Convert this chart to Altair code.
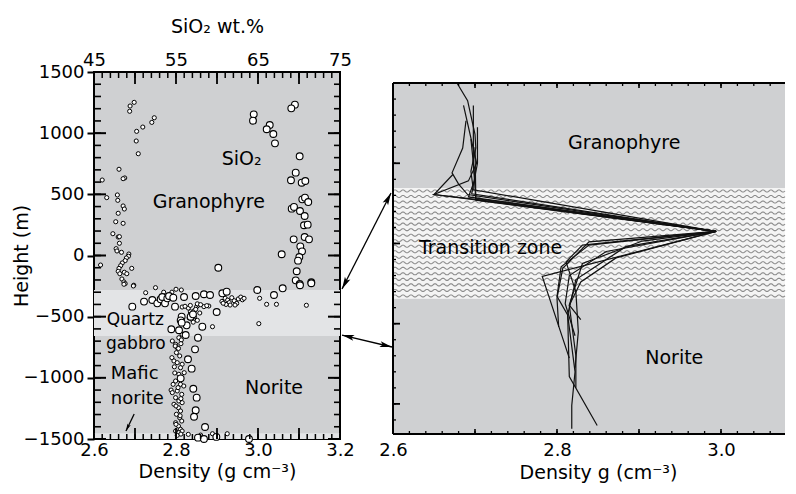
import altair as alt
import numpy as np
import pandas as pd

FONT = "DejaVu Sans"

# ---------------- Left panel data ----------------
# small circles: (density g/cm3, height m)
gran_small = [(2.698, 1252), (2.688, 1222), (2.687, 1179), (2.747, 1126), (2.741, 1088), (2.719, 1050),
              (2.704, 1015), (2.703, 936), (2.708, 832), (2.661, 705), (2.675, 634), (2.671, 628),
              (2.620, 617), (2.631, 473), (2.657, 495), (2.658, 451), (2.671, 405), (2.674, 380),
              (2.659, 345), (2.653, 276), (2.671, 263), (2.646, 178), (2.659, 151), (2.662, 154),
              (2.662, 100), (2.654, 56), (2.656, 37), (2.667, 26), (2.685, 12), (2.684, -6),
              (2.679, -20), (2.676, -42), (2.669, -61), (2.665, -83), (2.661, -105), (2.659, -129),
              (2.663, -149), (2.674, -137), (2.680, -149), (2.692, -105), (2.616, -78), (2.668, -192),
              (2.673, -216), (2.676, -230), (2.697, -243)]
qg_small = [(2.726, -304), (2.750, -263), (2.696, -249), (2.673, -235), (2.800, -276), (2.813, -282),
            (3.004, -350), (3.021, -399), (3.045, -399), (3.118, -407), (3.002, -557), (2.889, -582),
            (2.852, -530), (2.815, -421), (2.880, -413), (2.868, -418), (2.830, -430), (2.835, -460),
            (2.840, -490), (2.845, -450), (2.850, -420), (2.838, -520), (2.842, -545), (2.828, -560),
            (2.855, -405), (2.858, -470), (2.845, -500), (2.832, -510), (2.848, -440), (2.836, -480),
            (2.852, -395), (2.912, -375), (2.920, -350), (2.926, -365), (2.930, -385), (2.936, -345),
            (2.942, -370), (2.948, -392), (2.952, -355), (2.958, -340), (2.962, -362), (2.966, -350),
            (2.944, -405), (2.932, -405), (2.922, -400), (2.915, -390), (2.822, -415), (2.835, -408),
            (2.860, -402), (2.875, -410), (2.770, -300), (2.790, -300)]
nor_small = [(2.807, -672), (2.813, -690), (2.815, -644), (2.791, -699), (2.799, -726), (2.803, -754),
             (2.812, -721), (2.798, -740), (2.806, -760), (2.801, -794), (2.809, -821), (2.790, -835),
             (2.795, -862), (2.803, -876), (2.815, -889), (2.811, -917), (2.820, -958), (2.807, -971),
             (2.796, -910), (2.812, -1000), (2.799, -1026), (2.793, -1053), (2.811, -1053), (2.819, -1067),
             (2.788, -1100), (2.791, -1121), (2.803, -1107), (2.814, -1135), (2.799, -1162), (2.807, -1189),
             (2.815, -1203), (2.795, -1216), (2.806, -1244), (2.811, -1271), (2.801, -1298), (2.809, -1326),
             (2.814, -1353), (2.799, -1367), (2.806, -1394), (2.811, -1421), (2.799, -1435), (2.807, -1448),
             (2.815, -1435), (2.803, -1470), (2.812, -1460), (2.830, -1462), (2.860, -1468), (2.889, -1457),
             (2.925, -1457), (2.800, -1230), (2.810, -1310), (2.800, -1380), (2.812, -1170), (2.797, -960),
             (2.805, -1080)]
# large circles: (SiO2 wt.%, height m)
gran_big = [(69.5, 1233), (69.06, 1203), (64.48, 1154), (64.39, 1102), (66.43, 1067), (66.06, 1032),
            (66.87, 993), (67.07, 917), (70.08, 811), (69.6, 677), (69.02, 615), (70.33, 595),
            (70.77, 609), (70.40, 459), (70.73, 473), (71.13, 437), (69.11, 383), (69.39, 397),
            (70.12, 364), (70.69, 323), (70.61, 247), (71.06, 252), (69.35, 132), (70.69, 151),
            (71.22, 132), (70.16, 75), (70.37, 34), (70.04, -12), (69.88, -42), (67.89, 10),
            (69.72, -129), (69.6, -203), (70.08, -233), (71.5, -219), (60.16, -100)]
qg_big = [(49.67, -418), (51.10, -377), (52.11, -364), (52.72, -391), (53.13, -358), (53.33, -339),
          (53.66, -391), (53.94, -350), (54.15, -331), (54.67, -345), (54.88, -418), (55.98, -339),
          (57.40, -331), (58.41, -317), (59.15, -323), (60.65, -309), (61.18, -296), (64.91, -282),
          (66.95, -323), (68.01, -268), (70.12, -243), (71.5, -227), (59.96, -462), (56.79, -500),
          (55.69, -500), (57.07, -481), (55.57, -530), (56.30, -571), (54.43, -603), (55.37, -611),
          (56.18, -650), (57.68, -672), (58.21, -582), (55.69, -549)]
nor_big = [(57.32, -767), (56.46, -848), (56.91, -925), (55.57, -1004), (57.11, -1089), (57.52, -1162),
           (57.40, -1265), (57.20, -1318), (58.54, -1402), (57.68, -1489), (58.41, -1500), (59.92, -1483),
           (63.90, -1500)]

# light bands (height ranges)
band_low = [-658, -1500]
band_high = [-282, -1453]

# tick values
h_major = [-1500, -1000, -500, 0, 500, 1000, 1500]
h_minor = list(range(-1400, 1500, 100))
den_labels = [2.6, 2.8, 3.0, 3.2]
den_major = [2.6, 2.7, 2.8, 2.9, 3.0, 3.1, 3.2]
den_minor = [round(2.6 + 0.02 * i, 2) for i in range(31)]
si_labels = [45, 55, 65, 75]
si_major = [45, 50, 55, 60, 65, 70, 75]
si_minor = list(range(45, 76))

# ---------------- Right panel data ----------------
prof1_d = [2.678, 2.691, 2.700, 2.701, 2.695, 2.698, 2.994, 2.839, 2.807, 2.800, 2.802]
prof1_u = [400, 378, 336, 319, 290, 267, 215, 202, 169, 132, 96]
prof2_d = [2.698, 2.698, 2.701, 2.994, 2.904, 2.831, 2.815, 2.829]
prof2_u = [372, 300, 254, 215, 203, 175, 123, 105]
prof3_d = [2.689, 2.685, 2.672, 2.680, 2.691, 2.994, 2.884, 2.823, 2.813, 2.822, 2.818, 2.818]
prof3_u = [353, 319, 288, 274, 261, 215, 196, 155, 111, 40, -2, -31]
prof4_d = [2.686, 2.702, 2.692, 2.650, 2.994, 2.782, 2.815]
prof4_u = [372, 300, 278, 261, 215, 159, 57]
prof5_d = [2.703, 2.703, 2.696, 2.994, 2.872, 2.829, 2.815, 2.823, 2.823]
prof5_u = [345, 300, 262, 215, 182, 152, 123, 60, 20]
prof6_d = [2.695, 2.700, 2.692, 2.994, 2.839, 2.805, 2.800, 2.813, 2.815, 2.849]
prof6_u = [330, 280, 258, 215, 198, 171, 134, 111, 34, -27]
prof7_d = [2.673, 2.650, 2.701, 2.994, 2.831, 2.811, 2.823, 2.826, 2.822]
prof7_u = [286, 261, 255, 215, 198, 177, 140, 90, 45]
prof8_d = [2.700, 2.701, 2.994, 2.860, 2.815, 2.810, 2.822]
prof8_u = [320, 256, 215, 190, 160, 125, 85]

zones = ["Granophyre", "Transition zone", "Norite"]
zone_low = [269, 131, -37.5]
zone_high = [400, 269, 131]

u_major = [0, 100, 200, 300]
u_minor = list(range(-20, 400, 20))
rden_labels = [2.6, 2.8, 3.0]
rden_major = [2.6, 2.7, 2.8, 2.9, 3.0]
rden_minor = [round(2.6 + 0.02 * i, 2) for i in range(24)]

# ---------------- layout constants ----------------
LW, LH = 246, 367
RW, RH = 392, 367
RXMAX = 2.6 + RW / 820
GRAY = "#cfd0d2"
LIGHT = "#e3e4e6"
U_DOM = [-43.75, 413.75]
UPX = (U_DOM[1] - U_DOM[0]) / RH
TOP_PX = (U_DOM[1] - 400) / UPX
BOT_PX = (U_DOM[1] + 37.5) / UPX

xden = alt.Scale(domain=[2.6, 3.2], nice=False, zero=False)
xsi = alt.Scale(domain=[45, 75], nice=False, zero=False)
yh = alt.Scale(domain=[-1500, 1500], nice=False, zero=False)
xr = alt.Scale(domain=[2.6, RXMAX], nice=False, zero=False)
yu = alt.Scale(domain=U_DOM, nice=False, zero=False)

YAX = alt.Axis(values=h_major, format="d", tickSize=7, tickWidth=2, tickColor="black", domain=False,
               grid=False, labelFontSize=18, labelPadding=3, title="Height (m)", titleFontSize=19,
               titleX=-63)
RXAX = alt.Axis(values=rden_labels, format=".1f", ticks=False, domain=False, grid=False, labelFlush=False,
                labelFontSize=18, labelPadding=2, title="Density g (cm⁻³)", titleFontSize=19,
                titlePadding=4, titleX=205)


def YH(f):
    return alt.Y(f, scale=yh, axis=YAX)


def XR(f):
    return alt.X(f, scale=xr, axis=RXAX)


def YU(f):
    return alt.Y(f, scale=yu, axis=None)


# ---------------- left panel ----------------
small_df = pd.DataFrame(gran_small + qg_small + nor_small, columns=["d", "h"])
big_df = pd.DataFrame(gran_big + qg_big + nor_big, columns=["s", "h"])
band_df = pd.DataFrame({"h1": band_low, "h2": band_high})

bands = alt.Chart(band_df).mark_rect(color=LIGHT).encode(
    x=alt.value(0), x2=alt.value(LW), y=YH("h1:Q"), y2="h2:Q")

small = alt.Chart(small_df).mark_point(
    shape="circle", filled=True, fill="white", stroke="black", strokeWidth=1, size=17, opacity=1
).encode(
    x=alt.X("d:Q", scale=xden, axis=alt.Axis(
        orient="bottom", values=den_labels, format=".1f", ticks=False, domain=False, grid=False,
        labelFlush=False, labelFontSize=18, labelPadding=2, title="Density (g cm⁻³)",
        titleFontSize=19, titlePadding=3)),
    y=YH("h:Q"))

big = alt.Chart(big_df).mark_point(
    shape="circle", filled=True, fill="white", stroke="black", strokeWidth=1.1, size=46, opacity=1
).encode(
    x=alt.X("s:Q", scale=xsi, axis=alt.Axis(
        orient="top", values=si_labels, format="d", ticks=False, domain=False, grid=False,
        labelFlush=False, labelFontSize=18, labelPadding=3, title="SiO₂ wt.%", titleFontSize=19,
        titlePadding=15)),
    y=YH("h:Q"))


def hticks(vals, x0, x1, w):
    return alt.Chart(pd.DataFrame({"h": vals})).mark_rule(color="black", strokeWidth=w).encode(
        x=alt.value(x0), x2=alt.value(x1), y=YH("h:Q"))


def vticks(vals, field, scale, y0, y1, w):
    return alt.Chart(pd.DataFrame({field: vals})).mark_rule(color="black", strokeWidth=w).encode(
        x=alt.X(f"{field}:Q", scale=scale, axis=None), y=alt.value(y0), y2=alt.value(y1))


left_ticks = [
    hticks(h_major, 0, 12, 2), hticks(h_minor, 0, 7, 1.6),
    hticks(h_major, LW - 12, LW, 2), hticks(h_minor, LW - 6, LW, 1.6),
    vticks(den_major, "d", xden, LH - 11, LH, 1.8), vticks(den_minor, "d", xden, LH - 5, LH, 1.5),
    vticks(si_major, "s", xsi, 0, 12, 1.8), vticks(si_minor, "s", xsi, 0, 6, 1.5),
]

left_text_df = pd.DataFrame({
    "t": ["SiO₂", "Granophyre", "Norite"],
    "d": [2.96, 2.88, 3.039],
    "h": [785, 437, -1083],
})
left_text = alt.Chart(left_text_df).mark_text(fontSize=19, font=FONT, baseline="middle", color="black").encode(
    x=alt.X("d:Q", scale=xden, axis=None), y=YH("h:Q"), text="t:N")
left_text2_df = pd.DataFrame({
    "t": ["Quartz", "gabbro", "Mafic", "norite"],
    "d": [2.631, 2.629, 2.641, 2.641],
    "h": [-531, -723, -972, -1173],
    "fs": [17, 17, 18, 18],
})
left_text2 = alt.Chart(left_text2_df).mark_text(font=FONT, baseline="middle", align="left", color="black").encode(
    x=alt.X("d:Q", scale=xden, axis=None), y=YH("h:Q"), text="t:N",
    size=alt.Size("fs:Q", scale=None, legend=None))

# connecting arrows (density/height coordinates of left panel, extending into the gap)
arrow_df = pd.DataFrame({
    "d1": [3.2049, 3.2049, 2.698], "h1": [-274, -650, -1295],
    "d2": [3.3244, 3.3268, 2.678], "h2": [511, -748, -1434],
})
arrow_lines = alt.Chart(arrow_df).mark_rule(color="black", strokeWidth=1.3).encode(
    x=alt.X("d1:Q", scale=xden, axis=None), x2="d2:Q", y=YH("h1:Q"), y2="h2:Q")
head_df = pd.DataFrame({
    "d": [3.3244, 3.2049, 3.3268, 3.2049, 2.678],
    "h": [511, -274, -748, -650, -1434],
    "ang": [27.5, 207.5, 103.5, 283.5, 205.2],
    "sz": [150, 150, 150, 150, 55],
})
ARROW = "M0,0L0.5,2L0,1.55L-0.5,2Z"
heads = alt.Chart(head_df).mark_point(shape=ARROW, filled=True, color="black", opacity=1).encode(
    x=alt.X("d:Q", scale=xden, axis=None), y=YH("h:Q"),
    angle=alt.Angle("ang:Q", scale=None), size=alt.Size("sz:Q", scale=None, legend=None))

left = alt.layer(
    bands, small, big, *left_ticks, left_text, left_text2, arrow_lines, heads
).resolve_scale(x="independent").properties(
    width=LW, height=LH,
    view=alt.ViewBackground(fill=GRAY, stroke="black", strokeWidth=2))

# ---------------- right panel ----------------
profs = [(prof1_d, prof1_u), (prof2_d, prof2_u), (prof3_d, prof3_u), (prof4_d, prof4_u),
         (prof5_d, prof5_u), (prof6_d, prof6_u), (prof7_d, prof7_u), (prof8_d, prof8_u)]
rows = []
for k, (dd, uu) in enumerate(profs):
    for i, (a, b) in enumerate(zip(dd, uu)):
        rows.append({"p": k, "i": i, "d": a, "u": b})
prof_df = pd.DataFrame(rows)

zone_df = pd.DataFrame({"zone": zones, "u1": zone_low, "u2": zone_high})
zone_rects = alt.Chart(zone_df).mark_rect().encode(
    x=alt.value(0), x2=alt.value(RW), y=YU("u1:Q"), y2="u2:Q",
    color=alt.Color("zone:N", scale=alt.Scale(domain=zones, range=[GRAY, "#f4f4f4", GRAY]), legend=None))

# wavy hatching texture of the transition zone
NROWS, PER = 20, 6
STEP = (8 / 820) / PER
NPTS = int((RXMAX - 2.6) / STEP) + 1
waves = alt.Chart(alt.sequence(0, NROWS * NPTS, as_="i")).transform_calculate(
    row=f"floor(datum.i / {NPTS})", j=f"datum.i % {NPTS}"
).transform_calculate(
    x=f"2.6 + datum.j * {STEP}",
    y=f"{zone_low[1] + 3.6} + datum.row * {(zone_high[1] - zone_low[1] - 7.2) / (NROWS - 1)} + 1.4 * sin(2 * PI * datum.j / {PER})",
).mark_line(color="#8d8d8d", strokeWidth=1.1, interpolate="monotone").encode(
    x=XR("x:Q"), y=YU("y:Q"), detail="row:N")

lines = alt.Chart(prof_df).mark_line(color="#111111", strokeWidth=1.2).encode(
    x=XR("d:Q"), y=YU("u:Q"), detail="p:N", order="i:Q")

frame_h = alt.Chart(pd.DataFrame({"u": [zone_high[0], zone_low[2]]})).mark_rule(
    color="black", strokeWidth=2).encode(
    x=alt.value(0), x2=alt.value(RW), y=YU("u:Q"))
frame_v = alt.Chart(pd.DataFrame({"u1": [zone_low[2]], "u2": [zone_high[0]]})).mark_rule(
    color="black", strokeWidth=2).encode(
    x=alt.value(0), y=YU("u1:Q"), y2="u2:Q")


def rhticks(vals, length, w):
    return alt.Chart(pd.DataFrame({"u": vals})).mark_rule(color="black", strokeWidth=w).encode(
        x=alt.value(0), x2=alt.value(length), y=YU("u:Q"))


def rvticks(vals, y0, y1, w):
    return alt.Chart(pd.DataFrame({"d": vals})).mark_rule(color="black", strokeWidth=w).encode(
        x=XR("d:Q"), y=alt.value(y0), y2=alt.value(y1))


right_ticks = [
    rhticks(u_major, 7, 1.8), rhticks(u_minor, 3, 1.3),
    rvticks(rden_major, TOP_PX, TOP_PX + 5, 1.6), rvticks(rden_minor, TOP_PX, TOP_PX + 3, 1.3),
    rvticks(rden_major, BOT_PX - 5, BOT_PX, 1.6), rvticks(rden_minor, BOT_PX - 3, BOT_PX, 1.3),
]

right_text_df = pd.DataFrame({
    "t": ["Granophyre", "Transition zone", "Norite"],
    "d": [2.882, 2.719, 2.943],
    "u": [325.6, 194.4, 57.5],
})
right_text = alt.Chart(right_text_df).mark_text(fontSize=19, font=FONT, baseline="middle", color="black").encode(
    x=XR("d:Q"), y=YU("u:Q"), text="t:N")

right = alt.layer(
    zone_rects, waves, lines, frame_h, frame_v, *right_ticks, right_text
).properties(
    width=RW, height=RH,
    view=alt.ViewBackground(fill="transparent", stroke="transparent"))

chart = alt.hconcat(left, right, spacing=53, bounds="flush").properties(
    padding={"left": 3, "top": 8, "right": 0, "bottom": 0}
).configure(font=FONT).configure_axis(
    labelFont=FONT, titleFont=FONT, labelColor="black", titleColor="black", titleFontWeight="normal"
).configure_text(font=FONT)

chart.save("out.html", embed_options={"renderer": "svg", "actions": False})
